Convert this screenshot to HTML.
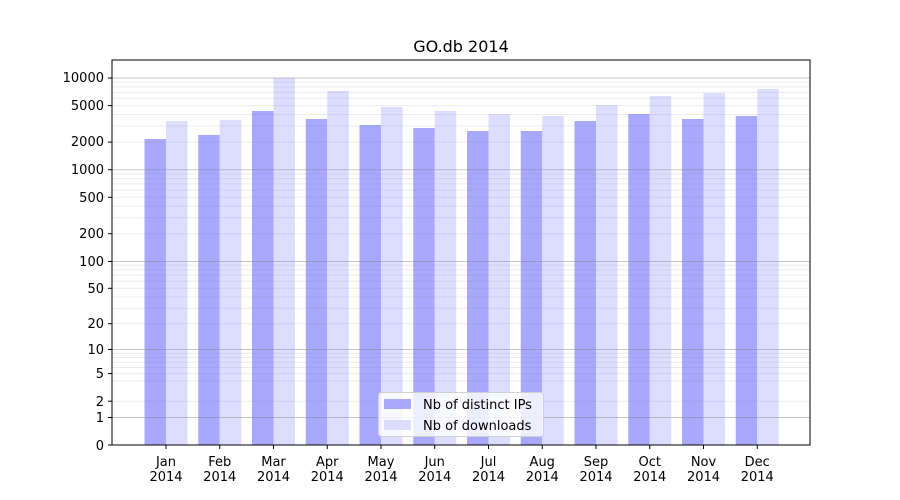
<!DOCTYPE html>
<html><head><meta charset="utf-8"><style>body{margin:0;background:#fff}svg{display:block}text{font-family:"DejaVu Sans","Liberation Sans",sans-serif;font-size:13px;fill:#000}</style></head>
<body>
<svg width="900" height="500" viewBox="0 0 900 500">
<rect width="900" height="500" fill="#fff"/>
<text x="461" y="52" text-anchor="middle" style="font-size:16px">GO.db 2014</text>
<g id="bars">
<rect x="144.5" y="139" width="21.5" height="306" fill="#a8a8ff"/><rect x="166" y="121" width="21.5" height="324" fill="#ddddff"/>
<rect x="198.25" y="135" width="21.5" height="310" fill="#a8a8ff"/><rect x="219.75" y="120" width="21.5" height="325" fill="#ddddff"/>
<rect x="252" y="111" width="21.5" height="334" fill="#a8a8ff"/><rect x="273.5" y="78" width="21.5" height="367" fill="#ddddff"/>
<rect x="305.75" y="119" width="21.5" height="326" fill="#a8a8ff"/><rect x="327.25" y="91" width="21.5" height="354" fill="#ddddff"/>
<rect x="359.5" y="125" width="21.5" height="320" fill="#a8a8ff"/><rect x="381" y="107" width="21.5" height="338" fill="#ddddff"/>
<rect x="413.25" y="128" width="21.5" height="317" fill="#a8a8ff"/><rect x="434.75" y="111" width="21.5" height="334" fill="#ddddff"/>
<rect x="467" y="131" width="21.5" height="314" fill="#a8a8ff"/><rect x="488.5" y="114" width="21.5" height="331" fill="#ddddff"/>
<rect x="520.75" y="131" width="21.5" height="314" fill="#a8a8ff"/><rect x="542.25" y="116" width="21.5" height="329" fill="#ddddff"/>
<rect x="574.5" y="121" width="21.5" height="324" fill="#a8a8ff"/><rect x="596" y="105" width="21.5" height="340" fill="#ddddff"/>
<rect x="628.25" y="114" width="21.5" height="331" fill="#a8a8ff"/><rect x="649.75" y="96" width="21.5" height="349" fill="#ddddff"/>
<rect x="682" y="119" width="21.5" height="326" fill="#a8a8ff"/><rect x="703.5" y="93" width="21.5" height="352" fill="#ddddff"/>
<rect x="735.75" y="116" width="21.5" height="329" fill="#a8a8ff"/><rect x="757.25" y="89" width="21.5" height="356" fill="#ddddff"/>
</g>
<g stroke="#808080" stroke-opacity="0.15" stroke-width="1">
<line x1="112" x2="810" y1="401.2" y2="401.2"/><line x1="112" x2="810" y1="380.9" y2="380.9"/><line x1="112" x2="810" y1="373.6" y2="373.6"/><line x1="112" x2="810" y1="367.5" y2="367.5"/><line x1="112" x2="810" y1="362.2" y2="362.2"/><line x1="112" x2="810" y1="357.5" y2="357.5"/><line x1="112" x2="810" y1="353.3" y2="353.3"/>
<line x1="112" x2="810" y1="323.7" y2="323.7"/><line x1="112" x2="810" y1="308.2" y2="308.2"/><line x1="112" x2="810" y1="297" y2="297"/><line x1="112" x2="810" y1="288.3" y2="288.3"/><line x1="112" x2="810" y1="281.2" y2="281.2"/><line x1="112" x2="810" y1="275.1" y2="275.1"/><line x1="112" x2="810" y1="269.9" y2="269.9"/><line x1="112" x2="810" y1="265.3" y2="265.3"/>
<line x1="112" x2="810" y1="233.7" y2="233.7"/><line x1="112" x2="810" y1="217.6" y2="217.6"/><line x1="112" x2="810" y1="206.2" y2="206.2"/><line x1="112" x2="810" y1="197.3" y2="197.3"/><line x1="112" x2="810" y1="190" y2="190"/><line x1="112" x2="810" y1="183.9" y2="183.9"/><line x1="112" x2="810" y1="178.6" y2="178.6"/><line x1="112" x2="810" y1="173.9" y2="173.9"/>
<line x1="112" x2="810" y1="142.1" y2="142.1"/><line x1="112" x2="810" y1="126" y2="126"/><line x1="112" x2="810" y1="114.5" y2="114.5"/><line x1="112" x2="810" y1="105.6" y2="105.6"/><line x1="112" x2="810" y1="98.3" y2="98.3"/><line x1="112" x2="810" y1="92.2" y2="92.2"/><line x1="112" x2="810" y1="86.9" y2="86.9"/><line x1="112" x2="810" y1="82.2" y2="82.2"/>
</g>
<g stroke="#808080" stroke-opacity="0.45" stroke-width="1">
<line x1="112" x2="810" y1="417.5" y2="417.5"/><line x1="112" x2="810" y1="349.5" y2="349.5"/><line x1="112" x2="810" y1="261.5" y2="261.5"/><line x1="112" x2="810" y1="169.7" y2="169.7"/><line x1="112" x2="810" y1="78" y2="78"/>
</g>
<rect x="112" y="60" width="698" height="385" fill="none" stroke="#000" stroke-width="1"/>
<g stroke="#000">
<line x1="108" x2="112" y1="445" y2="445"/><line x1="108" x2="112" y1="417.5" y2="417.5"/><line x1="108" x2="112" y1="401.2" y2="401.2"/><line x1="108" x2="112" y1="373.6" y2="373.6"/><line x1="108" x2="112" y1="349.5" y2="349.5"/><line x1="108" x2="112" y1="323.7" y2="323.7"/><line x1="108" x2="112" y1="288.3" y2="288.3"/><line x1="108" x2="112" y1="261.5" y2="261.5"/><line x1="108" x2="112" y1="233.7" y2="233.7"/><line x1="108" x2="112" y1="197.3" y2="197.3"/><line x1="108" x2="112" y1="169.7" y2="169.7"/><line x1="108" x2="112" y1="142.1" y2="142.1"/><line x1="108" x2="112" y1="105.6" y2="105.6"/><line x1="108" x2="112" y1="78" y2="78"/>
<line x1="166" x2="166" y1="445" y2="449"/><line x1="219.75" x2="219.75" y1="445" y2="449"/><line x1="273.5" x2="273.5" y1="445" y2="449"/><line x1="327.25" x2="327.25" y1="445" y2="449"/><line x1="381" x2="381" y1="445" y2="449"/><line x1="434.75" x2="434.75" y1="445" y2="449"/><line x1="488.5" x2="488.5" y1="445" y2="449"/><line x1="542.25" x2="542.25" y1="445" y2="449"/><line x1="596" x2="596" y1="445" y2="449"/><line x1="649.75" x2="649.75" y1="445" y2="449"/><line x1="703.5" x2="703.5" y1="445" y2="449"/><line x1="757.25" x2="757.25" y1="445" y2="449"/>
</g>
<g text-anchor="end">
<text x="104" y="450">0</text><text x="104" y="422">1</text><text x="104" y="406">2</text><text x="104" y="378">5</text><text x="104" y="354">10</text><text x="104" y="328">20</text><text x="104" y="293">50</text><text x="104" y="266">100</text><text x="104" y="238">200</text><text x="104" y="202">500</text><text x="104" y="174">1000</text><text x="104" y="146">2000</text><text x="104" y="110">5000</text><text x="104" y="82">10000</text>
</g>
<g text-anchor="middle">
<text x="166" y="466">Jan</text><text x="166" y="481">2014</text>
<text x="219.75" y="466">Feb</text><text x="219.75" y="481">2014</text>
<text x="273.5" y="466">Mar</text><text x="273.5" y="481">2014</text>
<text x="327.25" y="466">Apr</text><text x="327.25" y="481">2014</text>
<text x="381" y="466">May</text><text x="381" y="481">2014</text>
<text x="434.75" y="466">Jun</text><text x="434.75" y="481">2014</text>
<text x="488.5" y="466">Jul</text><text x="488.5" y="481">2014</text>
<text x="542.25" y="466">Aug</text><text x="542.25" y="481">2014</text>
<text x="596" y="466">Sep</text><text x="596" y="481">2014</text>
<text x="649.75" y="466">Oct</text><text x="649.75" y="481">2014</text>
<text x="703.5" y="466">Nov</text><text x="703.5" y="481">2014</text>
<text x="757.25" y="466">Dec</text><text x="757.25" y="481">2014</text>
</g>
<rect x="378.5" y="392.5" width="165" height="44" rx="3" fill="#fff" fill-opacity="0.8" stroke="#d0d0d0"/>
<rect x="384" y="399" width="27" height="10" fill="#a8a8ff"/>
<rect x="384" y="420" width="27" height="10" fill="#ddddff"/>
<text x="423" y="409">Nb of distinct IPs</text>
<text x="423" y="430">Nb of downloads</text>
</svg>
</body></html>
